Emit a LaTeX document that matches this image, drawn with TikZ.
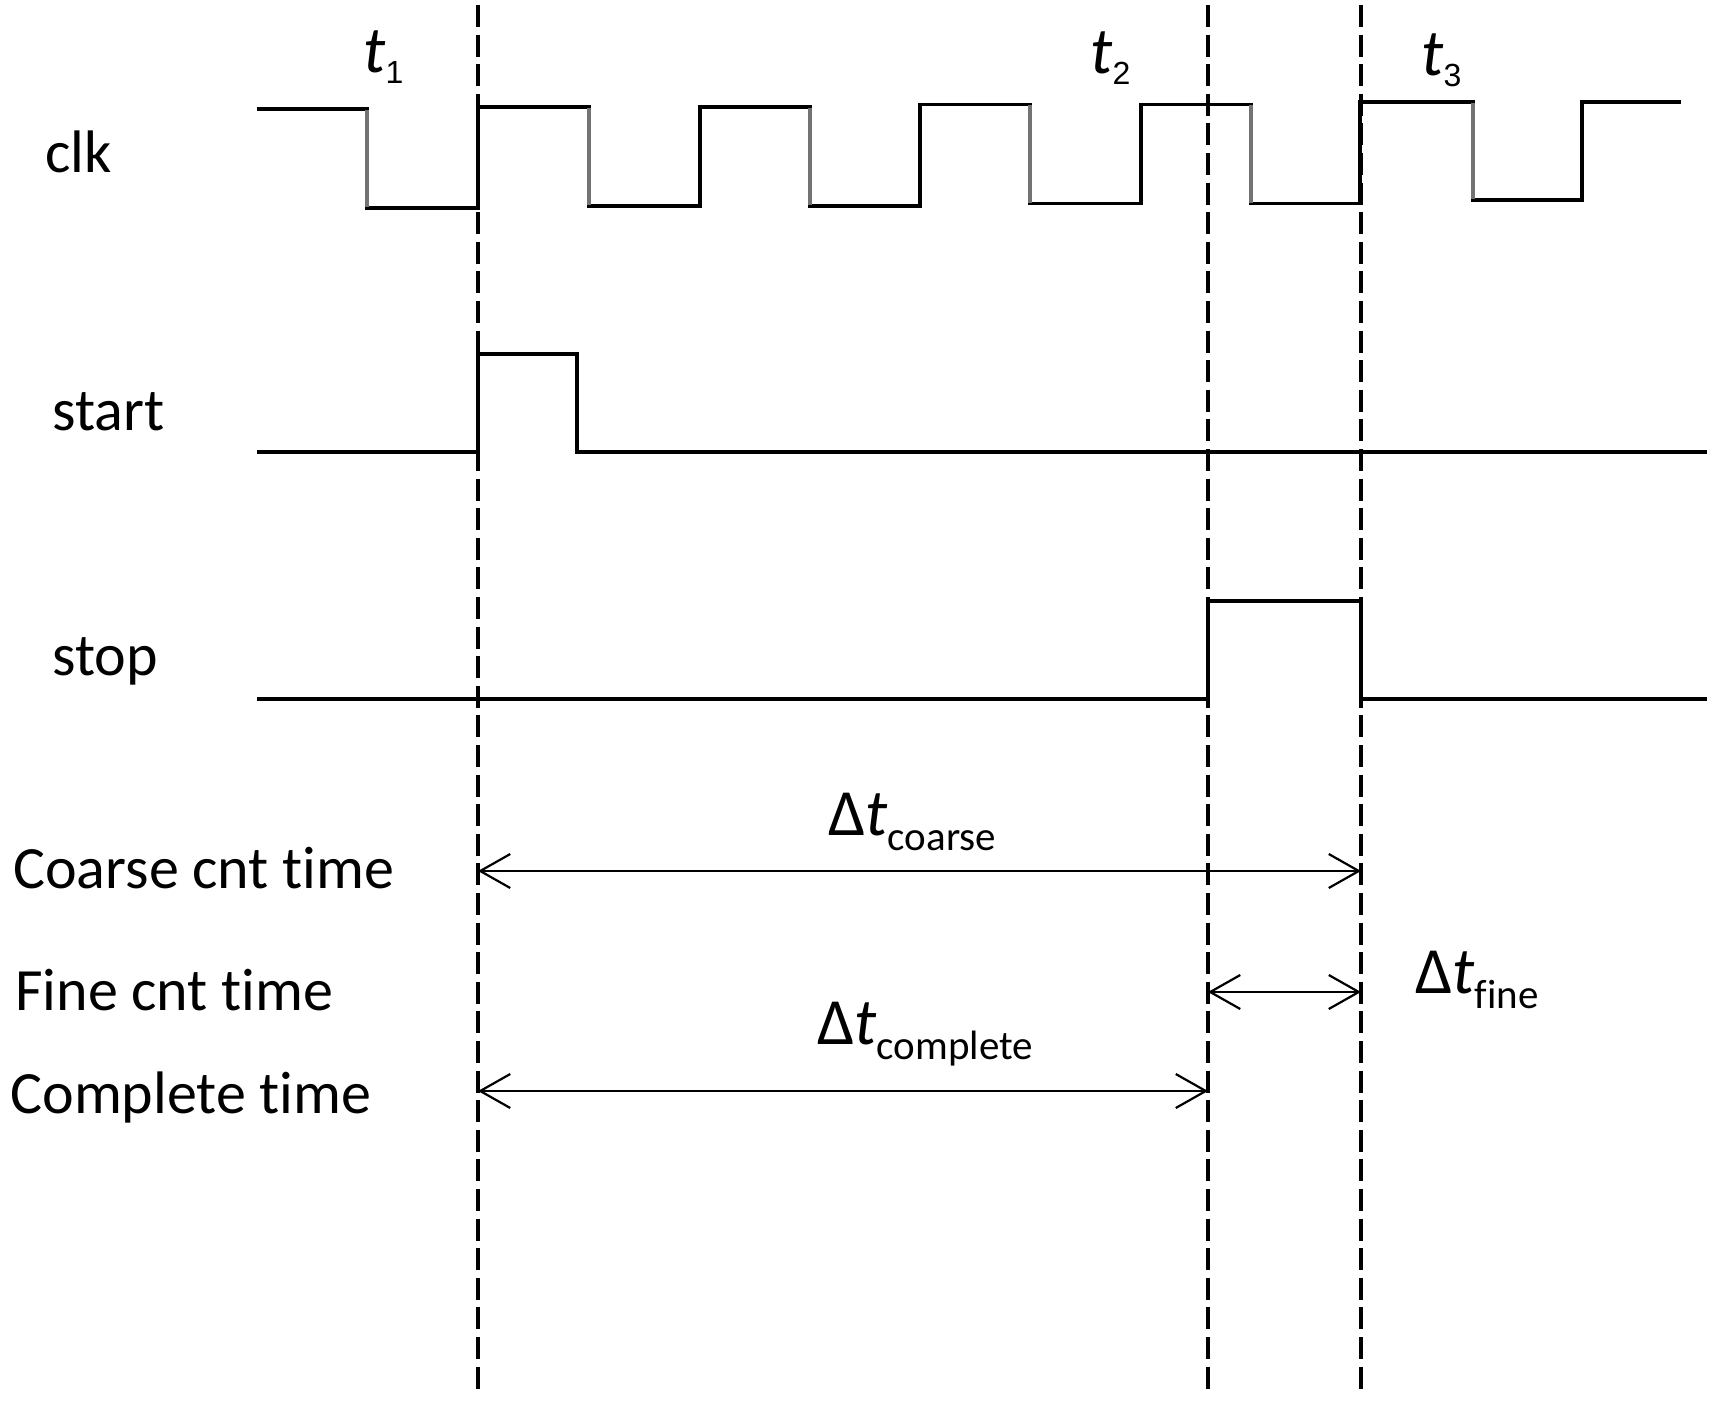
\documentclass[tikz,border=0pt]{standalone}
\usepackage{fontspec}
\setmainfont{Carlito}[Ligatures={NoCommon}]
\newfontfamily\arialf{Liberation Sans}
\usetikzlibrary{arrows.meta}
\newcommand\mytlab[1]{{\fontsize{33pt}{33pt}\selectfont\itshape t}\raisebox{-5.5pt}{\arialf\fontsize{16pt}{16pt}\selectfont #1}}
\newcommand\mydelt[1]{{\fontsize{33pt}{33pt}\selectfont Δ}{\fontsize{33pt}{33pt}\selectfont\itshape t}\raisebox{-7.5pt}{\fontsize{20.5pt}{20.5pt}\selectfont #1}}
\tikzset{
  wave/.style={line width=1.6pt, black, line join=miter},
  falledge/.style={line width=1.6pt, black!55},
  guide/.style={line width=1.6pt, dash pattern=on 11pt off 3.8pt},
  span/.style={line width=1.1pt, {Straight Barb[length=15pt,width=17pt]}-{Straight Barb[length=15pt,width=17pt]}},
  lbl/.style={anchor=base west, inner sep=0pt, font=\fontsize{30pt}{31pt}\selectfont},
  tl/.style={anchor=base west, inner sep=0pt},
}
\begin{document}
\begin{tikzpicture}[x=0.5pt, y=-0.5pt]
\useasboundingbox (0,0) rectangle (1714,1413);
\fill[white] (0,0) rectangle (1714,1413);

% guide lines
\coordinate (d1t) at (478,5);   \coordinate (d1b) at (478,1390);
\coordinate (d2t) at (1208,5);  \coordinate (d2b) at (1208,1390);
\coordinate (d3t) at (1361,5);  \coordinate (d3b) at (1361,1390);
\draw[guide] (d1t) -- (d1b);
\draw[guide] (d2t) -- (d2b);
\draw[guide] (d3t) -- (d3b);

% clk
\draw[wave] (257,109) -- (367,109) -- (367,208) -- (478,208) -- (478,107)
  -- (589,107) -- (589,206) -- (700,206) -- (700,107) -- (810,107)
  -- (810,206) -- (920,206) -- (920,104.5) -- (1030,104.5) -- (1030,203.5)
  -- (1141,203.5) -- (1141,104.5) -- (1251,104.5) -- (1251,203.5) -- (1360,203.5)
  -- (1360,102) -- (1473,102) -- (1473,200) -- (1582,200) -- (1582,102) -- (1681,102);
\draw[falledge] (367,110) -- (367,207);
\draw[falledge] (589,108) -- (589,205);
\draw[falledge] (810,108) -- (810,205);
\draw[falledge] (1030,105.5) -- (1030,202.5);
\draw[falledge] (1251,105.5) -- (1251,202.5);
\draw[falledge] (1473,103) -- (1473,199);

% start
\draw[wave] (257,452) -- (478,452) -- (478,354) -- (577,354) -- (577,452) -- (1707,452);
% stop
\draw[wave] (257,699) -- (1208,699) -- (1208,601) -- (1361,601) -- (1361,699) -- (1707,699);

% signal names
\node[lbl] (lclk) at (45,173) {clk};
\node[lbl] (lstart) at (52,430) {start};
\node[lbl] (lstop) at (52,675) {stop};
\node[lbl] (lcoarse) at (13,888) {Coarse cnt time};
\node[lbl] (lfine) at (15,1010) {Fine cnt time};
\node[lbl] (lcomp) at (10,1113) {Complete time};

% time labels
\node[tl] (t1) at (363,73) {\mytlab{1}};
\node[tl] (t2) at (1090,74) {\mytlab{2}};
\node[tl] (t3) at (1421,76) {\mytlab{3}};

% spans
\coordinate (cs) at (478,871);  \coordinate (ce) at (1361,871);
\coordinate (fs) at (1208,992); \coordinate (fe) at (1361,992);
\coordinate (ms) at (478,1091); \coordinate (me) at (1208,1091);
\draw[span] (cs) -- (ce);
\draw[span] (fs) -- (fe);
\draw[span] (ms) -- (me);

\node[tl] (dcoarse) at (828,835) {\mydelt{coarse}};
\node[tl] (dcomp) at (817,1044) {\mydelt{complete}};
\node[tl] (dfine) at (1415,993) {\mydelt{fine}};
\end{tikzpicture}
\end{document}
